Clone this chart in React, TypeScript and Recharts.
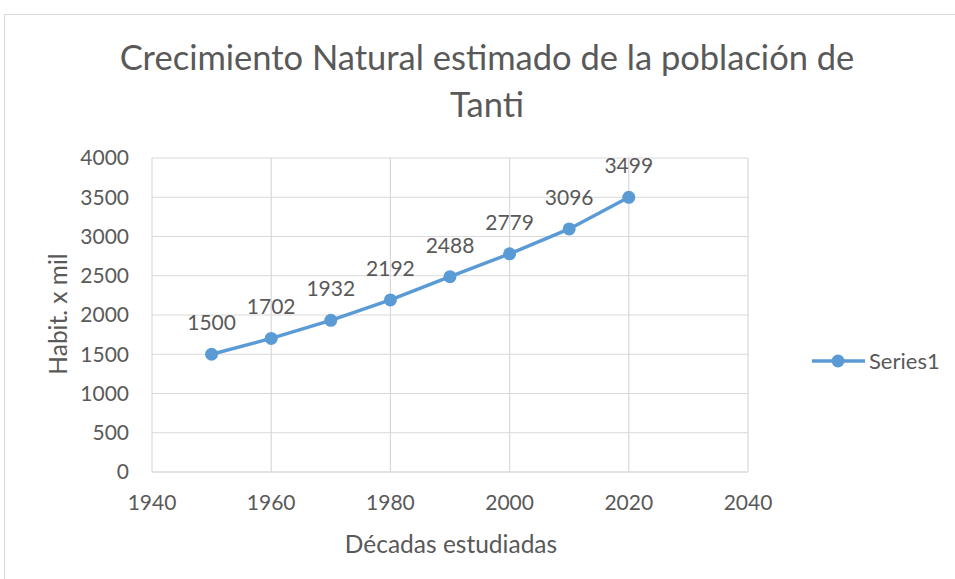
import {
  LineChart,
  Line,
  XAxis,
  YAxis,
  CartesianGrid,
  LabelList,
} from "recharts";

const years = [1950, 1960, 1970, 1980, 1990, 2000, 2010, 2020];
const habitantes = [1500, 1702, 1932, 2192, 2488, 2779, 3096, 3499];
const xTicks = [1940, 1960, 1980, 2000, 2020, 2040];
const yTicks = [0, 500, 1000, 1500, 2000, 2500, 3000, 3500, 4000];

const data = years.map((y, i) => ({ year: y, value: habitantes[i] }));

const FONT = "Lato, 'Open Sans', sans-serif";
const TXT = "#595959";
const BLUE = "#5B9BD5";
const GRID = "#d9d9d9";

// legend drawn by hand so it doesn't eat plot space
function LegendBox() {
  return (
    <div
      style={{
        position: "absolute",
        left: 812,
        top: 347,
        display: "flex",
        alignItems: "center",
        fontFamily: FONT,
        fontSize: 22,
        color: TXT,
        whiteSpace: "nowrap",
      }}
    >
      <svg width={54} height={26} style={{ display: "block" }}>
        <line x1={0} y1={13} x2={53} y2={13} stroke={BLUE} strokeWidth={3.5} />
        <circle cx={26} cy={13} r={6.5} fill={BLUE} />
      </svg>
      <span style={{ marginLeft: 3 }}>Series1</span>
    </div>
  );
}

export default function App() {
  return (
    <div
      style={{
        position: "absolute",
        left: 0,
        top: 0,
        width: 955,
        height: 579,
        background: "#fff",
        overflow: "hidden",
      }}
    >
      <div
        style={{
          position: "absolute",
          left: 4,
          top: 14,
          width: 1000,
          height: 1000,
          border: "1px solid " + GRID,
        }}
      />
      <div
        style={{
          position: "absolute",
          left: 0,
          top: 33,
          width: 974,
          textAlign: "center",
          fontFamily: FONT,
          fontSize: 34.5,
          lineHeight: "47px",
          color: TXT,
          whiteSpace: "nowrap",
        }}
      >
        Crecimiento Natural estimado de la población de
        <br />
        Tanti
      </div>
      <div
        style={{
          position: "absolute",
          left: 57,
          top: 314,
          transform: "translate(-50%, -50%) rotate(-90deg)",
          fontFamily: FONT,
          fontSize: 24.5,
          color: TXT,
          whiteSpace: "nowrap",
        }}
      >
        Habit. x mil
      </div>
      <div
        style={{
          position: "absolute",
          left: 451,
          top: 543,
          transform: "translate(-50%, -50%)",
          fontFamily: FONT,
          fontSize: 24.5,
          color: TXT,
          whiteSpace: "nowrap",
        }}
      >
        Décadas estudiadas
      </div>
      <LegendBox />
      <div style={{ position: "absolute", left: 0, top: 0 }}>
        <LineChart
          width={955}
          height={579}
          data={data}
          margin={{ top: 158, right: 207, bottom: 77, left: 92 }}
        >
          <CartesianGrid stroke={GRID} strokeWidth={1.2} />
          <XAxis
            type="number"
            dataKey="year"
            domain={[1940, 2040]}
            ticks={xTicks}
            height={30}
            axisLine={{ stroke: GRID, strokeWidth: 1.2 }}
            tickLine={false}
            tickSize={0}
            tickMargin={23}
            tick={{ fill: TXT, fontSize: 21, fontFamily: FONT }}
          />
          <YAxis
            type="number"
            domain={[0, 4000]}
            ticks={yTicks}
            width={60}
            axisLine={false}
            tickLine={false}
            tickSize={0}
            tickMargin={23}
            tick={{ fill: TXT, fontSize: 21, fontFamily: FONT }}
          />
          <Line
            type="linear"
            dataKey="value"
            name="Series1"
            stroke={BLUE}
            strokeWidth={3.5}
            dot={{ r: 6.5, fill: BLUE, stroke: BLUE, strokeWidth: 0 }}
            isAnimationActive={false}
          >
            <LabelList
              dataKey="value"
              position="top"
              offset={24}
              style={{ fill: TXT, fontSize: 21, fontFamily: FONT }}
            />
          </Line>
        </LineChart>
      </div>
    </div>
  );
}
